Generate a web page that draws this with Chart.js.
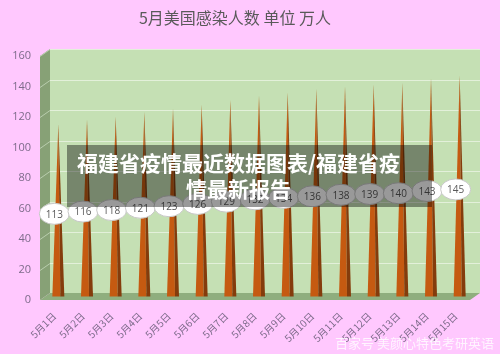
<!DOCTYPE html>
<html>
<head>
<meta charset="utf-8">
<script src="https://cdn.jsdelivr.net/npm/chart.js@4.4.0/dist/chart.umd.min.js"></script>
<style>
  html, body { margin: 0; padding: 0; background: #ffc8fe; }
  #wrap { position: relative; width: 500px; height: 354px; overflow: hidden; }
  #overlay {
    position: absolute; left: 67px; top: 145px; width: 365px; height: 62px;
    background: rgba(0, 0, 0, 0.4); color: #fff;
    font-family: "Noto Sans CJK SC", sans-serif; font-weight: bold; font-size: 21px;
    line-height: 26px; text-align: center; padding: 4px 22px 0 0; box-sizing: border-box;
    white-space: nowrap;
  }
  #mark {
    position: absolute; left: 335px; top: 333px;
    font-family: "Noto Sans CJK SC", sans-serif; font-size: 13px;
    color: rgba(255, 255, 255, 0.8);
  }
</style>
</head>
<body>
<div id="wrap">
  <canvas id="chart" width="500" height="354"></canvas>
  <div id="overlay">福建省疫情最近数据图表/福建省疫<br>情最新报告</div>
  <div id="mark">百家号 美颜心特色考研英语</div>
</div>
<script>
// data
const days = ['5月1日', '5月2日', '5月3日', '5月4日', '5月5日', '5月6日', '5月7日', '5月8日',
  '5月9日', '5月10日', '5月11日', '5月12日', '5月13日', '5月14日', '5月15日'];
const infected = [113, 116, 118, 121, 123, 126, 129, 132, 134, 136, 138, 139, 140, 143, 145];
const yTicks = [0, 20, 40, 60, 80, 100, 120, 140, 160];

// depth of the fake 3D box
const DX = 10, DY = -7;

const wallsPlugin = {
  id: 'walls',
  beforeDatasetsDraw(chart) {
    const { ctx, chartArea: a, scales: { y } } = chart;
    ctx.save();
    // back wall
    ctx.fillStyle = '#c5e0b4';
    ctx.fillRect(a.left + DX, a.top + DY, a.right - a.left, a.bottom - a.top);
    // left wall
    ctx.fillStyle = '#87a176';
    ctx.beginPath();
    ctx.moveTo(a.left, a.top);
    ctx.lineTo(a.left + DX, a.top + DY);
    ctx.lineTo(a.left + DX, a.bottom + DY);
    ctx.lineTo(a.left, a.bottom);
    ctx.closePath();
    ctx.fill();
    // grid lines
    ctx.lineWidth = 1;
    yTicks.forEach(v => {
      if (v === 0) return;
      const py = Math.round(y.getPixelForValue(v)) + 0.5;
      ctx.strokeStyle = 'rgba(230,242,222,0.9)';
      ctx.beginPath();
      ctx.moveTo(a.left + DX, py + DY);
      ctx.lineTo(a.right + DX, py + DY);
      ctx.stroke();
      ctx.strokeStyle = 'rgba(190,210,178,0.9)';
      ctx.beginPath();
      ctx.moveTo(a.left, py);
      ctx.lineTo(a.left + DX, py + DY);
      ctx.stroke();
    });
    // floor
    ctx.fillStyle = '#8fae7e';
    ctx.beginPath();
    ctx.moveTo(a.left, a.bottom);
    ctx.lineTo(a.left + DX, a.bottom + DY);
    ctx.lineTo(a.right + DX, a.bottom + DY);
    ctx.lineTo(a.right, a.bottom);
    ctx.closePath();
    ctx.fill();
    ctx.restore();
  },
  afterDatasetsDraw(chart) {
    const { ctx } = chart;
    const meta = chart.getDatasetMeta(0);
    ctx.save();
    // cones
    meta.data.forEach(bar => {
      const cx = bar.x + 4;
      const top = bar.y + DY / 2;
      const base = bar.base + DY / 2;
      ctx.fillStyle = '#c55a11';
      ctx.beginPath();
      ctx.moveTo(cx - 6, base);
      ctx.lineTo(cx, top);
      ctx.lineTo(cx + 2, base);
      ctx.closePath();
      ctx.fill();
      ctx.fillStyle = '#843c0c';
      ctx.beginPath();
      ctx.moveTo(cx + 2, base);
      ctx.lineTo(cx, top);
      ctx.lineTo(cx + 6, base);
      ctx.closePath();
      ctx.fill();
    });
    // value labels in ellipses
    ctx.font = '10px "Open Sans", sans-serif';
    ctx.textAlign = 'center';
    ctx.textBaseline = 'middle';
    meta.data.forEach((bar, i) => {
      const cx = bar.x;
      const cy = (bar.y + bar.base) / 2;
      ctx.fillStyle = '#ffffff';
      ctx.strokeStyle = '#c8c8c8';
      ctx.beginPath();
      ctx.ellipse(cx, cy, 15, 10.5, 0, 0, Math.PI * 2);
      ctx.fill();
      ctx.stroke();
      ctx.fillStyle = '#595959';
      ctx.fillText(infected[i], cx, cy + 1);
    });
    ctx.restore();
  }
};

new Chart(document.getElementById('chart'), {
  type: 'bar',
  data: {
    labels: days,
    datasets: [{
      data: infected,
      backgroundColor: 'rgba(0,0,0,0)',
      borderWidth: 0
    }]
  },
  options: {
    responsive: false,
    animation: false,
    layout: { padding: { left: 0, right: 30, top: 0, bottom: 0 } },
    scales: {
      y: {
        min: 0,
        max: 160,
        afterFit: s => { s.width = 40; },
        afterBuildTicks: s => { s.ticks = yTicks.map(v => ({ value: v })); },
        grid: { display: false, drawTicks: false },
        border: { display: false },
        ticks: { color: '#7d6b8a', padding: 9, font: { size: 11, family: '"Open Sans", sans-serif' } }
      },
      x: {
        afterFit: s => { s.height = 54; },
        grid: { display: false },
        border: { display: false },
        ticks: {
          color: '#7d6b8a', minRotation: 45, maxRotation: 45, padding: 2,
          font: { size: 10, family: '"Noto Sans CJK SC", sans-serif' }
        }
      }
    },
    plugins: {
      legend: { display: false },
      tooltip: { enabled: false },
      title: {
        display: true,
        text: '5月美国感染人数 单位 万人',
        color: '#595959',
        font: { size: 16, weight: 'normal', family: '"Noto Sans CJK SC", sans-serif', lineHeight: 1.2 },
        padding: { top: 8, bottom: 28.8 }
      }
    }
  },
  plugins: [wallsPlugin]
});
</script>
</body>
</html>
